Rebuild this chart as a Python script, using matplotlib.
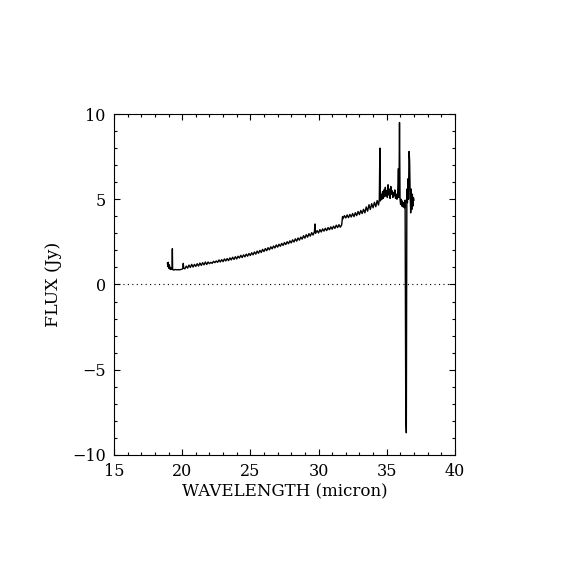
import numpy as np
import matplotlib
matplotlib.use('Agg')
import matplotlib.pyplot as plt
from matplotlib.ticker import MultipleLocator

# spectrum (micron, Jy)
wavelength = [
    18.92, 18.95, 18.98, 19.02, 19.06, 19.10, 19.14, 19.18, 19.22, 19.26,
    19.28, 19.30, 19.33, 19.40, 19.50, 19.60, 19.70, 19.80, 19.90, 20.00,
    20.05, 20.08, 20.11, 20.20, 20.30, 20.40, 20.50, 20.60, 20.70, 20.80,
    20.90, 21.00, 21.10, 21.20, 21.30, 21.40, 21.50, 21.60, 21.70, 21.80,
    21.90, 22.00, 22.10, 22.20, 22.30, 22.40, 22.50, 22.60, 22.70, 22.80,
    22.90, 23.00, 23.10, 23.20, 23.30, 23.40, 23.50, 23.60, 23.70, 23.80,
    23.90, 24.00, 24.10, 24.20, 24.30, 24.40, 24.50, 24.60, 24.70, 24.80,
    24.90, 25.00, 25.10, 25.20, 25.30, 25.40, 25.50, 25.60, 25.70, 25.80,
    25.90, 26.00, 26.10, 26.20, 26.30, 26.40, 26.50, 26.60, 26.70, 26.80,
    26.90, 27.00, 27.10, 27.20, 27.30, 27.40, 27.50, 27.60, 27.70, 27.80,
    27.90, 28.00, 28.10, 28.20, 28.30, 28.40, 28.50, 28.60, 28.70, 28.80,
    28.90, 29.00, 29.10, 29.20, 29.30, 29.40, 29.50, 29.60, 29.70, 29.74,
    29.78, 29.90, 30.00, 30.10, 30.20, 30.30, 30.40, 30.50, 30.60, 30.70,
    30.80, 30.90, 31.00, 31.10, 31.20, 31.30, 31.40, 31.50, 31.60, 31.70,
    31.76, 31.80, 31.90, 32.00, 32.10, 32.20, 32.30, 32.40, 32.50, 32.60,
    32.70, 32.80, 32.90, 33.00, 33.10, 33.20, 33.30, 33.40, 33.50, 33.60,
    33.70, 33.80, 33.90, 34.00, 34.10, 34.20, 34.30, 34.40, 34.46, 34.50,
    34.54, 34.60, 34.65, 34.70, 34.75, 34.80, 34.85, 34.90, 34.95, 35.00,
    35.05, 35.10, 35.15, 35.20, 35.25, 35.30, 35.35, 35.40, 35.45, 35.50,
    35.55, 35.60, 35.65, 35.70, 35.75, 35.80, 35.86, 35.90, 35.94, 35.98,
    36.02, 36.06, 36.10, 36.15, 36.20, 36.25, 36.30, 36.35, 36.40, 36.44,
    36.48, 36.52, 36.56, 36.60, 36.64, 36.68, 36.72, 36.76, 36.80, 36.84,
    36.88, 36.92, 36.96, 37.00,
]
flux = [
    1.25, 1.05, 1.30, 0.95, 1.15, 0.90, 1.00, 0.88, 0.92, 0.90,
    2.10, 0.88, 0.86, 0.85, 0.88, 0.86, 0.87, 0.86, 0.88, 0.90,
    0.95, 1.24, 0.96, 0.92, 1.08, 0.96, 1.14, 1.00, 1.18, 1.02,
    1.18, 1.06, 1.22, 1.08, 1.26, 1.12, 1.28, 1.15, 1.32, 1.17,
    1.32, 1.22, 1.30, 1.24, 1.36, 1.28, 1.38, 1.30, 1.44, 1.32,
    1.46, 1.34, 1.50, 1.38, 1.52, 1.40, 1.56, 1.44, 1.60, 1.47,
    1.63, 1.50, 1.66, 1.55, 1.71, 1.58, 1.74, 1.62, 1.78, 1.66,
    1.82, 1.70, 1.86, 1.74, 1.91, 1.78, 1.96, 1.83, 2.00, 1.88,
    2.06, 1.93, 2.11, 1.98, 2.16, 2.03, 2.21, 2.09, 2.26, 2.14,
    2.32, 2.19, 2.36, 2.24, 2.41, 2.29, 2.46, 2.34, 2.51, 2.39,
    2.56, 2.44, 2.62, 2.49, 2.68, 2.54, 2.73, 2.60, 2.78, 2.66,
    2.86, 2.72, 2.92, 2.78, 2.98, 2.84, 3.04, 2.90, 3.10, 3.55,
    3.00, 3.16, 3.02, 3.22, 3.08, 3.26, 3.13, 3.30, 3.16, 3.34,
    3.21, 3.38, 3.24, 3.42, 3.29, 3.48, 3.34, 3.51, 3.36, 3.50,
    3.98, 3.86, 4.04, 3.90, 4.08, 3.92, 4.11, 3.96, 4.16, 3.98,
    4.21, 4.04, 4.28, 4.10, 4.34, 4.16, 4.41, 4.20, 4.55, 4.30,
    4.68, 4.40, 4.74, 4.50, 4.82, 4.56, 4.92, 4.66, 5.00, 8.00,
    4.90, 5.30, 5.00, 5.45, 5.05, 5.55, 5.15, 5.70, 5.20, 5.50,
    5.10, 5.85, 5.25, 5.60, 5.05, 5.75, 5.30, 5.50, 5.10, 5.40,
    5.20, 5.55, 5.05, 5.30, 5.00, 5.20, 6.80, 5.10, 9.50, 5.00,
    4.70, 5.00, 4.60, 4.90, 4.55, 4.80, 4.50, 4.95, -7.65, -8.70,
    5.60, 4.80, 6.20, 5.00, 7.80, 7.30, 5.40, 4.20, 5.60, 4.40,
    5.30, 4.60, 5.10, 4.95,
]

x_ticks = [15, 20, 25, 30, 35, 40]
y_ticks = [-10, -5, 0, 5, 10]

plt.rcParams['font.family'] = ['DejaVu Serif']

fig = plt.figure(figsize=(5.7, 5.7), dpi=100)
ax = fig.add_axes([0.2, 0.2018, 0.598, 0.5982])

ax.plot(wavelength, flux, color='black', lw=1.0)
ax.axhline(0, color='black', lw=0.8, ls=(0, (1, 3)))

ax.set_xlim(15, 40)
ax.set_ylim(-10, 10)
ax.set_xticks(x_ticks)
ax.set_yticks(y_ticks)
ax.xaxis.set_minor_locator(MultipleLocator(1))
ax.yaxis.set_minor_locator(MultipleLocator(1))
ax.tick_params(which='both', direction='in', top=True, right=True,
               labelsize=11.5, width=0.8, pad=6)
ax.tick_params(which='major', length=4.5)
ax.tick_params(which='minor', length=2)
for s in ax.spines.values():
    s.set_linewidth(0.8)

ax.set_xlabel('WAVELENGTH (micron)', fontsize=12, labelpad=2)
ax.set_ylabel('FLUX (Jy)', fontsize=12.5, labelpad=7)

fig.savefig('out.png', dpi=100, facecolor='white')
